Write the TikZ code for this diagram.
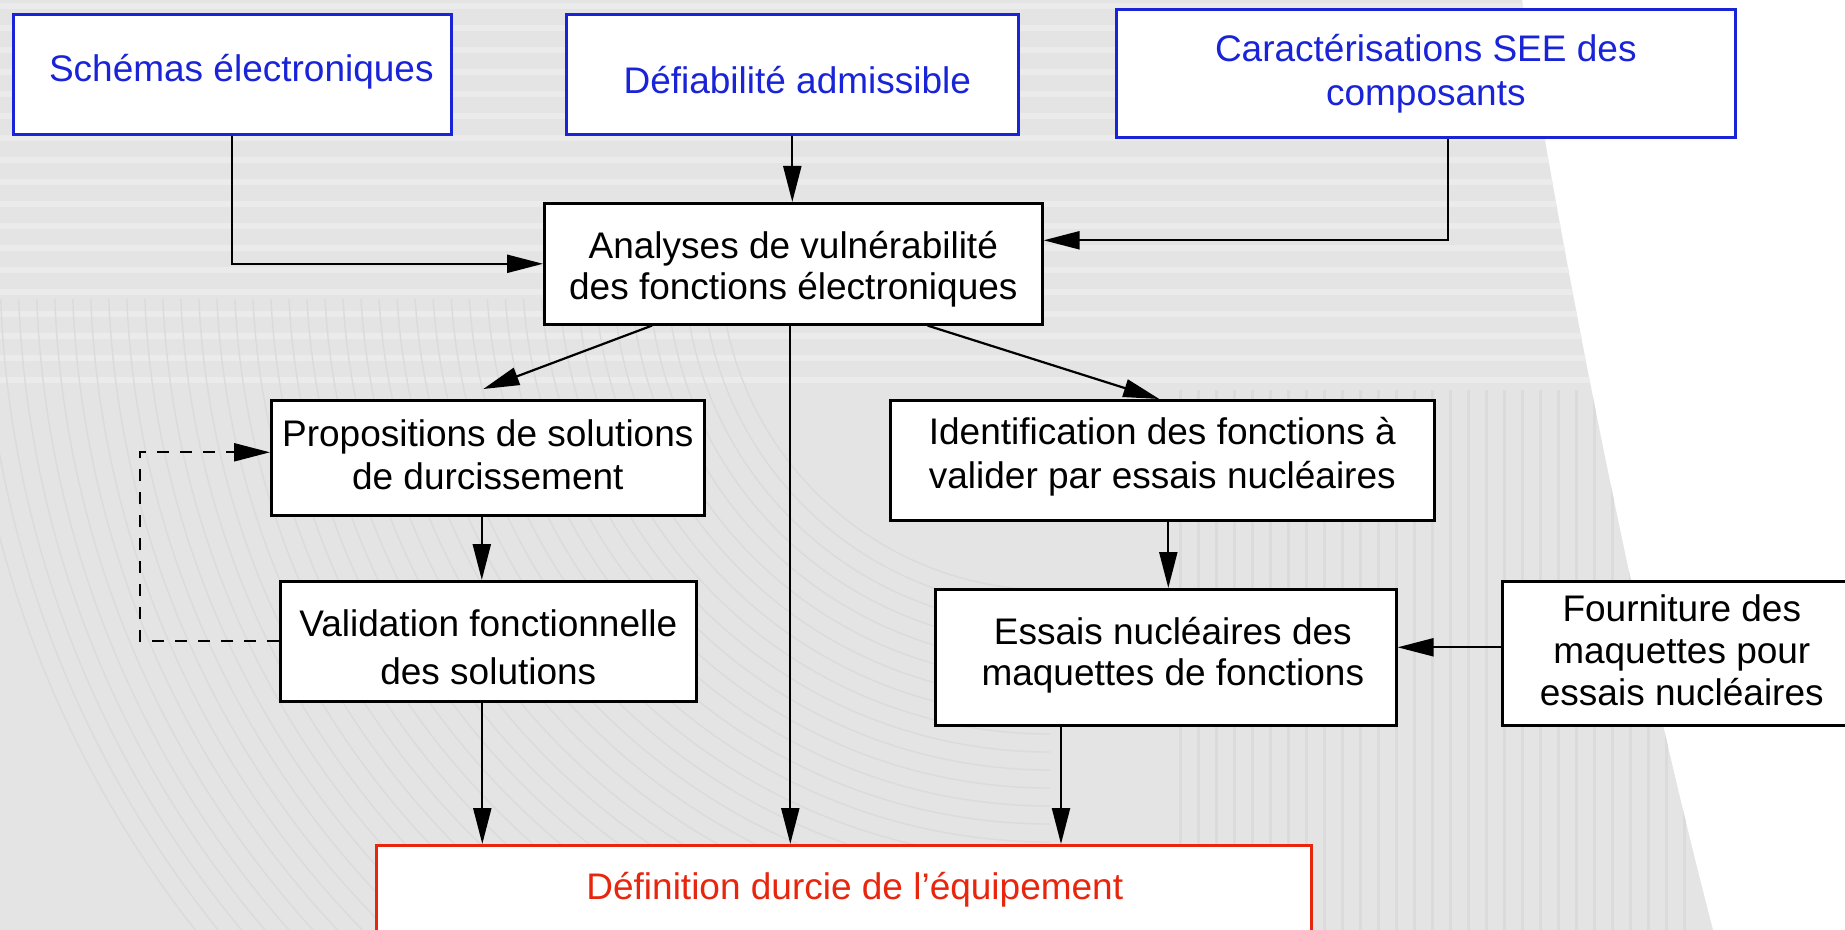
\documentclass[tikz,border=0pt]{standalone}
\usepackage{fontspec}
\setmainfont{Liberation Sans}
\usetikzlibrary{arrows.meta}
\definecolor{bblue}{RGB}{25,35,215}
\definecolor{rred}{RGB}{232,38,14}
\definecolor{bgc}{RGB}{228,228,228}
\definecolor{bgd}{RGB}{219,219,219}
\definecolor{bgl}{RGB}{235,235,235}
\newcommand\mylines[2]{\fontsize{18.5pt}{#1}\selectfont\begin{tabular}[t]{@{}c@{}}#2\end{tabular}}
\begin{document}
\begin{tikzpicture}[x=0.5pt,y=-0.5pt,
  box/.style={draw=black, line width=1.3pt, fill=white, inner sep=0pt, anchor=north west,
              font=\fontsize{18.5pt}{21pt}\selectfont},
  bluebox/.style={box, draw=bblue, text=bblue},
  redbox/.style={box, draw=rred, text=rred},
  arr/.style={line width=1.1pt, -{Triangle[length=18pt,width=9pt]}},
  dashline/.style={arr, dash pattern=on 6pt off 5.5pt}
]
\useasboundingbox (0,0) rectangle (1845,930);
\fill[white] (0,0) rectangle (1845,930);
% background texture
\begin{scope}
  \clip (0,0) -- (1522,0) .. controls (1560,250) and (1640,650) .. (1713,930) -- (0,930) -- cycle;
  \fill[bgc] (0,0) rectangle (1845,930);
  \foreach \yy in {6,28,...,380} \draw[bgl, line width=3pt] (0,\yy) -- (1700,\yy);
  \begin{scope}
    \clip (0,300) rectangle (1170,930);
    \foreach \r in {330,348,...,1100}
      \draw[bgd, line width=0.7pt] (1050,260) ++(180:\r) arc[start angle=180, end angle=90, radius=\r];
  \end{scope}
  \foreach \xx in {1180,1198,...,1700} \draw[bgd, line width=1.5pt] (\xx,390) -- (\xx,930);
\end{scope}

% boxes
\node[bluebox, minimum width=219pt, text height=33.5pt, text depth=26.5pt] (s) at (12,13)
  {\hspace*{9pt}Schémas électroniques};
\node[bluebox, minimum width=226pt, text height=39.5pt, text depth=20.5pt] (d) at (565,13)
  {\hspace*{5pt}Défiabilité admissible};
\node[bluebox, minimum width=309.5pt, text height=26pt, text depth=38pt] (c) at (1115,8)
  {\mylines{22pt}{Caractérisations SEE des\\composants}};
\node[box, minimum width=249pt, text height=27.5pt, text depth=33pt] (a) at (543,202)
  {\mylines{20.5pt}{Analyses de vulnérabilité\\des fonctions électroniques}};
\node[box, minimum width=216.5pt, text height=23pt, text depth=34.5pt] (p) at (270,399)
  {\mylines{21.5pt}{Propositions de solutions\\de durcissement}};
\node[box, minimum width=208pt, text height=27.5pt, text depth=32.5pt] (v) at (279,580)
  {\mylines{24pt}{Validation fonctionnelle\\des solutions}};
\node[box, minimum width=272pt, text height=22pt, text depth=38pt] (i) at (889,399)
  {\mylines{22pt}{Identification des fonctions à\\valider par essais nucléaires}};
\node[box, minimum width=230.5pt, text height=27.5pt, text depth=40.5pt] (e) at (934,588)
  {\hspace*{7pt}\mylines{20.5pt}{Essais nucléaires des\\maquettes de fonctions}};
\node[box, minimum width=179.5pt, text height=20pt, text depth=52pt] (fo) at (1501,580)
  {\mylines{21pt}{Fourniture des\\maquettes pour\\essais nucléaires}};
\node[redbox, minimum width=467.5pt, text height=27pt, text depth=50.5pt] (f) at (375,844)
  {\hspace*{11pt}Définition durcie de l’équipement};

% connectors
\draw[arr] (s.south) |- (a.west);
\draw[arr] (d.south) -- (d.south |- a.north);
\draw[arr] ([xshift=11.25pt]c.south) |- ([yshift=11.75pt]a.east);
\draw[arr] ([xshift=54.5pt]a.south west) -- ([xshift=-2.25pt,yshift=5pt]p.north);
\draw[arr] ([xshift=-58pt]a.south east) -- ([xshift=-1.5pt]i.north);
\draw[arr] ([xshift=-1.5pt]a.south) -- ([xshift=-1.5pt]a.south |- f.north);
\draw[arr] ([xshift=-3pt]p.south) -- ([xshift=-3pt]p.south |- v.north);
\draw[arr] ([xshift=-3pt]v.south) -- ([xshift=-3pt]v.south |- f.north);
\draw[arr] ([xshift=3pt]i.south) -- ([xshift=3pt]i.south |- e.north);
\draw[arr] ([xshift=63.5pt]e.south west) -- ([xshift=63.5pt]e.south west |- f.north);
\draw[arr] ([yshift=3pt]fo.west) -- ([yshift=3pt]fo.west -| e.east);
\draw[dashline] (v.west) -- ++(-139,0) |- ([yshift=2.75pt]p.west);
\end{tikzpicture}
\end{document}
